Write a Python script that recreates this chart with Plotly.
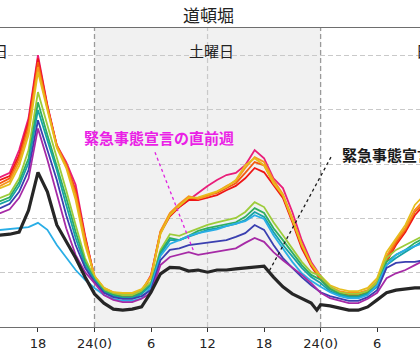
import plotly.graph_objects as go

# Hours counted from Friday 0:00 (24 = Saturday 0:00, 48 = Sunday 0:00)
hours = list(range(13, 60))
hours_black = list(range(13, 48)) + [47.6] + list(range(48, 60))

tick_hours = [18, 24, 30, 36, 42, 48, 54, 60]
tick_text = ["18", "24(0)", "6", "12", "18", "24(0)", "6", "12"]

day_names = ["金曜日", "土曜日", "日曜日"]
day_noon = [12, 36, 60]

# Hourly crowd level, one list per week
week_01 = [27.4, 27.6, 28.4, 32.6, 38.5, 50.1, 40.9, 33.5, 30.4, 26.2, 16.9, 9.2,
           6.8, 6.1, 5.7, 5.7, 6.4,
           9.6, 17.5, 20.6, 22.1, 23.4, 24.7, 26.0, 27.1, 28.0, 28.4, 29.8, 32.6, 31.1,
           27.4, 25.6, 21.2, 16.0, 12.0, 9.4,
           7.4, 6.4, 6.1, 6.1, 6.6,
           8.3, 12.7, 16.0, 18.2, 21.5, 23.4]
week_02 = [26.9, 27.1, 27.8, 31.7, 37.8, 49.5, 40.7, 33.3, 29.8, 25.2, 16.6, 9.0,
           7.0, 6.3, 5.9, 5.9, 6.6,
           9.2, 17.3, 20.4, 22.1, 23.4, 23.4, 23.9, 24.3, 25.2, 26.0, 27.4, 29.3, 28.5,
           26.2, 23.8, 19.3, 14.5, 11.2, 8.7,
           7.0, 6.3, 5.9, 5.9, 6.4,
           7.7, 12.0, 15.1, 17.5, 20.6, 22.5]
week_03 = [26.3, 26.5, 27.4, 31.1, 37.2, 48.8, 40.5, 33.5, 30.0, 24.9, 16.4, 9.2,
           7.0, 6.3, 5.9, 5.9, 6.6,
           9.4, 17.5, 20.8, 22.5, 23.8, 23.6, 24.3, 24.7, 25.6, 26.5, 28.4, 30.4, 29.8,
           26.5, 24.1, 19.7, 14.9, 11.4, 8.8,
           7.2, 6.4, 6.1, 6.1, 6.6,
           8.1, 12.3, 15.5, 17.9, 21.2, 22.8]
week_04 = [25.8, 26.0, 26.9, 30.4, 36.3, 47.9, 40.3, 33.3, 29.7, 24.3, 16.0, 9.4,
           7.2, 6.4, 6.1, 6.1, 6.8,
           9.4, 17.7, 21.0, 22.7, 24.1, 23.6, 24.1, 24.9, 26.0, 26.9, 29.3, 31.3, 30.4,
           27.1, 24.5, 20.1, 15.3, 11.6, 9.0,
           7.4, 6.6, 6.3, 6.3, 6.8,
           8.5, 13.1, 16.0, 18.2, 21.5, 23.4]
week_05 = [25.4, 25.6, 26.3, 29.7, 35.4, 47.0, 40.0, 33.0, 29.3, 23.4, 15.1, 9.4,
           7.2, 6.4, 6.3, 6.3, 7.0,
           9.0, 17.1, 20.6, 22.3, 23.8, 23.9, 24.5, 25.0, 25.8, 27.1, 29.8, 31.1, 29.8,
           26.5, 24.3, 19.7, 15.1, 11.6, 9.4,
           7.7, 7.0, 6.6, 6.6, 7.2,
           9.0, 13.8, 16.4, 18.8, 22.5, 24.3]
week_06 = [23.6, 23.8, 24.5, 27.4, 32.6, 43.3, 37.2, 31.3, 25.2, 18.8, 12.7, 9.0,
           6.8, 6.1, 5.9, 5.9, 6.6,
           8.3, 14.2, 17.1, 16.8, 17.5, 18.2, 18.8, 19.3, 19.7, 20.1, 21.2, 23.0, 22.1,
           19.3, 16.9, 14.5, 12.0, 10.1, 9.4,
           7.4, 6.4, 6.1, 6.1, 6.6,
           8.3, 12.7, 14.2, 15.1, 16.0, 16.9]
week_07 = [23.0, 23.2, 23.9, 26.7, 31.1, 41.4, 35.4, 29.8, 23.8, 17.5, 12.0, 8.7,
           6.6, 5.9, 5.5, 5.5, 6.3,
           7.9, 13.8, 16.4, 16.0, 16.8, 17.7, 18.2, 18.6, 19.0, 19.3, 20.3, 21.9, 21.0,
           18.2, 16.0, 13.6, 11.4, 9.6, 8.7,
           7.0, 6.1, 5.7, 5.7, 6.3,
           7.7, 12.0, 13.3, 14.2, 15.5, 16.4]
week_08 = [22.5, 22.7, 23.4, 26.0, 30.2, 40.0, 34.4, 28.9, 22.5, 16.4, 11.4, 8.7,
           6.4, 5.7, 5.3, 5.3, 6.1,
           7.7, 13.4, 16.0, 16.0, 16.6, 17.3, 17.9, 18.2, 18.6, 19.0, 19.7, 21.2, 20.3,
           17.5, 15.1, 12.9, 10.9, 9.2, 8.1,
           6.6, 5.9, 5.5, 5.5, 6.1,
           7.4, 11.4, 12.7, 13.8, 14.9, 16.0]
week_09 = [17.7, 17.9, 18.0, 18.2, 18.4, 19.2, 17.9, 15.1, 12.7, 10.5, 8.7, 7.2,
           5.9, 5.2, 4.8, 4.8, 5.3,
           7.4, 13.1, 15.3, 16.0, 16.8, 17.3, 17.7, 18.0, 18.6, 19.0, 19.5, 20.6, 19.9,
           16.9, 14.5, 12.0, 9.9, 8.5, 7.4,
           6.4, 5.7, 5.3, 5.3, 5.9,
           7.7, 11.4, 13.3, 14.2, 14.9, 15.5]
week_10 = [21.7, 21.9, 22.7, 24.9, 28.9, 38.1, 32.6, 27.1, 20.6, 15.1, 10.9, 8.3,
           6.3, 5.5, 5.2, 5.2, 5.7,
           6.8, 12.3, 14.2, 14.5, 15.1, 15.3, 15.5, 15.7, 16.0, 16.6, 17.3, 18.8, 17.9,
           15.1, 12.7, 10.9, 9.2, 7.7, 6.4,
           5.7, 5.2, 4.8, 4.8, 5.5,
           6.8, 10.9, 11.8, 12.0, 12.0, 12.3]
# week just before the state of emergency
week_11 = [20.8, 21.0, 21.7, 23.8, 27.4, 36.6, 30.8, 24.3, 18.2, 13.3, 10.1, 8.1,
           5.9, 5.0, 4.6, 4.6, 5.2,
           6.3, 11.4, 12.9, 13.4, 13.8, 13.3, 13.6, 13.8, 14.2, 14.5, 15.5, 16.4, 15.7,
           13.8, 12.3, 11.0, 9.6, 8.1, 6.3,
           5.3, 4.8, 4.4, 4.4, 5.2,
           6.3, 9.0, 9.9, 10.5, 11.4, 12.3]
# week of the state of emergency
week_emergency = [16.8, 16.9, 17.1, 17.5, 21.5, 28.5, 24.9, 18.8, 15.7, 12.7, 9.2, 6.1,
                  4.4, 3.3, 3.1, 3.3, 3.7,
                  6.4, 9.8, 11.0, 10.9, 10.3, 10.5, 10.1, 10.5, 10.5, 10.7, 10.9, 11.0, 11.2,
                  9.2, 7.4, 6.1, 5.2, 4.4, 3.1, 4.1,
                  3.9, 3.5, 3.1, 3.1, 3.7,
                  5.0, 6.3, 6.8, 7.0, 7.2, 7.2]

weeks = [week_01, week_02, week_03, week_04, week_05, week_06,
         week_07, week_08, week_09, week_10, week_11]
week_colors = ["#e91e7a", "#ef1616", "#f35b10", "#f7951d", "#e6bd1c", "#9dcc3a",
               "#2fae60", "#16a2a6", "#2aaee6", "#3a3fb0", "#a62aa6"]

X0, X1 = 13.97, 58.55
Y0, Y1 = 0, 55.1

fig = go.Figure()

for vals, col in zip(weeks, week_colors):
    fig.add_trace(go.Scatter(x=hours, y=vals, mode="lines",
                             line=dict(color=col, width=1.8), hoverinfo="skip"))

fig.add_trace(go.Scatter(x=hours_black, y=week_emergency, mode="lines",
                         line=dict(color="#262626", width=3.2), hoverinfo="skip"))

# Saturday band and day boundaries
fig.add_shape(type="rect", xref="x", yref="paper", x0=24, x1=48, y0=0, y1=1,
              fillcolor="#f1f1f1", line=dict(width=0), layer="below")
fig.add_shape(type="line", xref="x", yref="paper", x0=36, x1=36, y0=0, y1=1,
              line=dict(color="#c9c9c9", width=1.2, dash="5px,3px"), layer="below")
for b in (24, 48):
    fig.add_shape(type="line", xref="x", yref="paper", x0=b, x1=b, y0=0, y1=1,
                  line=dict(color="#9a9a9a", width=1.3, dash="5px,3px"), layer="below")

cjk = "Noto Sans CJK JP"

# Title and day labels
fig.add_annotation(text="道頓堀", xref="paper", yref="paper", x=0.4964, y=1.0435,
                   showarrow=False, xanchor="center", yanchor="middle",
                   font=dict(family=cjk, size=17, color="#222222"))
for name, noon in zip(day_names, day_noon):
    fx = (noon + 0.47 - X0) / (X1 - X0)
    fig.add_annotation(text=name, xref="paper", yref="paper", x=fx, y=0.926,
                       showarrow=False, xanchor="center", yanchor="middle",
                       font=dict(family=cjk, size=15, color="#222222"))

# Callouts
fig.add_annotation(text="<b>緊急事態宣言の直前週</b>", x=30.85, y=35.0, showarrow=False,
                   xanchor="center", yanchor="middle",
                   font=dict(family=cjk, size=15, color="#ea20e6"))
fig.add_shape(type="line", x0=30.42, y0=32.2, x1=34.56, y1=13.8,
              line=dict(color="#e020e0", width=1.3, dash="dot"))
fig.add_annotation(text="<b>緊急事態宣言</b>", x=50.06, y=31.7, showarrow=False,
                   xanchor="left", yanchor="middle",
                   font=dict(family=cjk, size=15, color="#1a1a1a"))
fig.add_shape(type="line", x0=49.1, y0=31.3, x1=42.42, y1=9.9,
              line=dict(color="#1a1a1a", width=1.3, dash="dot"))

fig.update_xaxes(range=[X0, X1], tickvals=tick_hours, ticktext=tick_text,
                 showgrid=False, zeroline=False,
                 showline=True, mirror=True, linecolor="#6e6e6e", linewidth=1.3,
                 ticks="outside", ticklen=4, tickwidth=1, tickcolor="#333333",
                 tickfont=dict(family="DejaVu Sans", size=13, color="#222222"))
fig.update_yaxes(range=[Y0, Y1], dtick=10, showticklabels=False, ticks="",
                 showgrid=True, gridcolor="#c9c9c9", gridwidth=1.2, griddash="5px,3px",
                 zeroline=False, showline=False)

fig.update_layout(width=420, height=350, margin=dict(l=0, r=0, t=28, b=23),
                  paper_bgcolor="white", plot_bgcolor="white",
                  showlegend=False, hovermode=False)

fig.write_html("out.html", config={"displayModeBar": False})
